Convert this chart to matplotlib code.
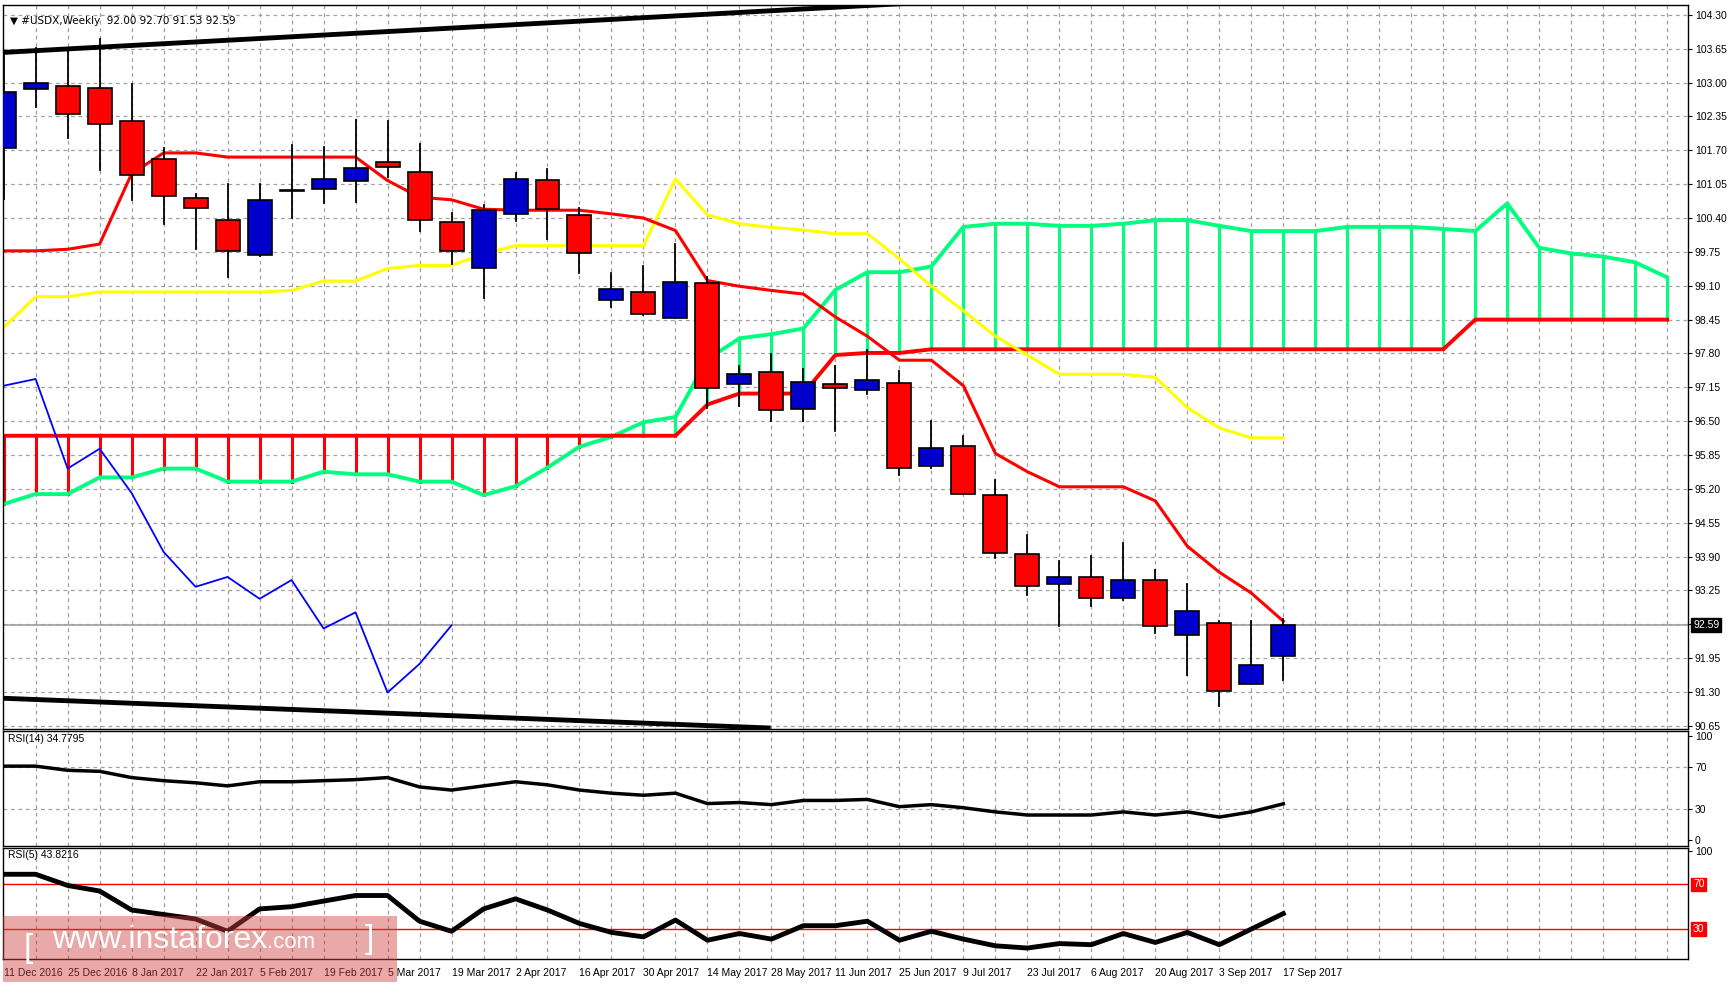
import matplotlib.pyplot as plt
import numpy as np
from matplotlib.patches import Rectangle

# weekly candles, 11 Dec 2016 .. 17 Sep 2017
opens = [101.75, 102.88, 102.94, 102.90, 102.27, 101.54, 100.78, 100.36, 99.69, 100.94,
         100.95, 101.11, 101.47, 101.29, 100.32, 99.44, 100.48, 101.13, 100.46, 98.83,
         98.98, 98.49, 99.16, 97.21, 97.44, 96.73, 97.21, 97.09, 97.23, 95.64,
         96.03, 95.09, 93.95, 93.38, 93.51, 93.11, 93.45, 92.39, 92.62, 91.46, 92.00]
highs = [103.57, 103.66, 103.60, 103.84, 102.98, 101.75, 100.86, 101.05, 101.05, 101.80,
         101.77, 102.29, 102.27, 101.82, 100.49, 100.65, 101.27, 101.35, 100.59, 99.34,
         99.47, 99.90, 99.27, 97.56, 97.79, 97.50, 97.56, 97.86, 97.46, 96.51,
         96.22, 95.37, 94.32, 93.81, 93.92, 94.17, 93.65, 93.38, 92.66, 92.66, 92.70]
lows = [100.76, 102.53, 101.94, 101.32, 100.75, 100.29, 99.81, 99.27, 99.67, 100.41,
        100.68, 100.71, 101.18, 100.16, 99.52, 98.86, 100.35, 99.99, 99.34, 98.69,
        98.53, 98.49, 96.75, 96.80, 96.50, 96.50, 96.31, 97.03, 95.46, 95.61,
        95.10, 93.87, 93.16, 92.57, 92.95, 93.07, 92.43, 91.63, 91.03, 91.45, 91.53]
closes = [102.82, 102.99, 102.40, 102.21, 101.22, 100.83, 100.59, 99.77, 100.74, 100.91,
          101.14, 101.37, 101.38, 100.36, 99.77, 100.55, 101.15, 100.57, 99.73, 99.04,
          98.56, 99.18, 97.13, 97.40, 96.72, 97.26, 97.13, 97.29, 95.61, 95.99,
          95.11, 93.97, 93.34, 93.51, 93.11, 93.45, 92.56, 92.86, 91.31, 91.82, 92.59]

tenkan = [99.77, 99.77, 99.80, 99.90, 101.25, 101.65, 101.65, 101.57, 101.57, 101.57,
          101.57, 101.57, 101.12, 100.80, 100.75, 100.57, 100.55, 100.55, 100.55, 100.48,
          100.40, 100.16, 99.20, 99.09, 99.01, 98.94, 98.50, 98.13, 97.67, 97.67,
          97.18, 95.88, 95.53, 95.24, 95.24, 95.24, 94.97, 94.10, 93.60, 93.20, 92.66]
kijun = [98.30, 98.89, 98.89, 98.98, 98.98, 98.98, 98.98, 98.98, 98.98, 99.01,
         99.19, 99.19, 99.43, 99.49, 99.49, 99.71, 99.87, 99.87, 99.87, 99.87,
         99.87, 101.15, 100.46, 100.29, 100.22, 100.17, 100.10, 100.10, 99.62, 99.09,
         98.62, 98.13, 97.77, 97.40, 97.40, 97.40, 97.34, 96.76, 96.37, 96.18, 96.18]
span_a = [94.91, 95.10, 95.10, 95.42, 95.42, 95.59, 95.59, 95.34, 95.34, 95.34,
          95.53, 95.48, 95.48, 95.34, 95.34, 95.08, 95.25, 95.61, 96.01, 96.20,
          96.48, 96.58, 97.69, 98.09, 98.17, 98.28, 99.02, 99.36, 99.36, 99.47,
          100.23, 100.29, 100.29, 100.25, 100.25, 100.29, 100.36, 100.36, 100.25, 100.15,
          100.15, 100.15, 100.23, 100.23, 100.23, 100.19, 100.15, 100.68, 99.83, 99.72,
          99.66, 99.55, 99.26]
span_b = [96.22] * 22 + [96.82, 97.03, 97.03, 97.03, 97.77, 97.81, 97.81] + [97.88] * 17 + [98.45] * 7
chikou = [97.18, 97.31, 95.59, 95.97, 95.12, 93.99, 93.32, 93.51, 93.09, 93.45,
          92.52, 92.83, 91.29, 91.84, 92.58]

rsi14 = [71, 71, 67, 66, 60, 57, 55, 52, 56, 56, 57, 58, 60, 51, 48, 52, 56, 53, 48, 45,
         43, 45, 35, 36, 34, 38, 38, 39, 32, 34, 31, 27, 24, 24, 24, 27, 24, 27, 22, 27, 34.78]
rsi5 = [79, 79, 69, 64, 47, 43, 39, 28, 48, 50, 55, 60, 60, 37, 28, 48, 57, 47, 35, 27,
        23, 38, 20, 26, 21, 33, 33, 37, 20, 28, 21, 15, 13, 17, 16, 26, 18, 27, 16, 30, 43.82]

date_labels = ['11 Dec 2016', '25 Dec 2016', '8 Jan 2017', '22 Jan 2017', '5 Feb 2017',
               '19 Feb 2017', '5 Mar 2017', '19 Mar 2017', '2 Apr 2017', '16 Apr 2017',
               '30 Apr 2017', '14 May 2017', '28 May 2017', '11 Jun 2017', '25 Jun 2017',
               '9 Jul 2017', '23 Jul 2017', '6 Aug 2017', '20 Aug 2017', '3 Sep 2017',
               '17 Sep 2017']
price_ticks = [90.65, 91.30, 91.95, 92.60, 93.25, 93.90, 94.55, 95.20, 95.85, 96.50, 97.15,
               97.80, 98.45, 99.10, 99.75, 100.40, 101.05, 101.70, 102.35, 103.00, 103.65, 104.30]

W, H = 1728, 985
plt.rcParams['font.family'] = ['Liberation Sans', 'DejaVu Sans']
fs = 7.5
fig = plt.figure(figsize=(W / 100, H / 100), dpi=100)
L, R = 3 / W, 1688 / W
def fy(y):
    return 1 - y / H
ax = fig.add_axes([L, fy(729), R - L, fy(5) - fy(729)])
ax2 = fig.add_axes([L, fy(846), R - L, fy(731) - fy(846)], sharex=ax)
ax3 = fig.add_axes([L, fy(959), R - L, fy(848) - fy(959)], sharex=ax)

xmax = 52.65
grid_kw = dict(color='#a0a0a0', linestyle=(0, (3, 3)), linewidth=0.9)
for a in (ax, ax2, ax3):
    a.set_xlim(-0.02, xmax)
    for xv in range(1, 53):
        a.axvline(xv, zorder=0, **grid_kw)
    a.yaxis.tick_right()
    a.tick_params(axis='y', labelsize=fs, length=3, pad=2)
    a.tick_params(axis='x', bottom=False, labelbottom=False)
    for s in a.spines.values():
        s.set_linewidth(1.0)

ax.set_ylim(90.59, 104.49)
ax.set_yticks(price_ticks)
ax.set_yticklabels(['%.2f' % p for p in price_ticks])
for p in price_ticks:
    ax.axhline(p, zorder=0, **grid_kw)

# cloud hatches
for i in range(len(span_a)):
    c = '#00ff7f' if span_a[i] > span_b[i] else '#ff0000'
    ax.plot([i, i], [span_a[i], span_b[i]], color=c, lw=2.2, zorder=1)
ax.plot(range(len(span_a)), span_a, color='#00ff7f', lw=2.8, zorder=2)
ax.plot(range(len(span_b)), span_b, color='#ff0000', lw=2.8, zorder=2)
ax.plot(range(len(kijun)), kijun, color='#ffff00', lw=2.2, zorder=2)
ax.plot(range(len(tenkan)), tenkan, color='#ff0000', lw=2.2, zorder=2)
ax.plot(range(len(chikou)), chikou, color='#0000ff', lw=1.3, zorder=2)

# trend lines
ax.plot([0, 28.5], [103.58, 104.53], color='black', lw=3.5, zorder=3)
ax.plot([0, 23.9], [91.18, 90.61], color='black', lw=3.5, zorder=3)

# candles
bw = 0.75
for i in range(len(opens)):
    up = closes[i] >= opens[i]
    ax.plot([i, i], [lows[i], highs[i]], color='black', lw=1.3, zorder=4)
    lo, hi = min(opens[i], closes[i]), max(opens[i], closes[i])
    ax.add_patch(Rectangle((i - bw / 2, lo), bw, max(hi - lo, 0.03),
                           facecolor='#0000cd' if up else '#ff0000',
                           edgecolor='black', lw=1.2, zorder=5))

last = closes[-1]
ax.axhline(last, color='#a0a0a0', lw=1.2, zorder=1)
ax.text(1.003, last, '%.2f' % last, transform=ax.get_yaxis_transform(), va='center',
        ha='left', fontsize=fs, color='white',
        bbox=dict(boxstyle='square,pad=0.2', fc='black', ec='black'), zorder=10, clip_on=False)
ax.text(0.004, 0.985, '\u25bc #USDX,Weekly  92.00 92.70 91.53 92.59', transform=ax.transAxes,
        fontsize=fs, va='top', ha='left', family=['DejaVu Sans'])

# RSI(14)
ax2.set_ylim(-5.8, 104.8)
ax2.set_yticks([0, 30, 70, 100])
for v in (30, 70):
    ax2.axhline(v, zorder=0, **grid_kw)
ax2.plot(range(len(rsi14)), rsi14, color='black', lw=2.5)
ax2.text(0.003, 0.97, 'RSI(14) 34.7795', transform=ax2.transAxes, fontsize=fs, va='top')

# RSI(5)
ax3.set_ylim(3.2, 102.5)
ax3.set_yticks([100])
for v in (30, 70):
    ax3.axhline(v, color='red', lw=1.0, zorder=1)
    ax3.text(1.003, v, str(v), transform=ax3.get_yaxis_transform(), va='center', ha='left',
             fontsize=fs, color='white', bbox=dict(boxstyle='square,pad=0.15', fc='red', ec='red'),
             clip_on=False)
ax3.plot(range(len(rsi5)), rsi5, color='black', lw=3.5)
ax3.text(0.003, 0.98, 'RSI(5) 43.8216', transform=ax3.transAxes, fontsize=fs, va='top')

# date labels
for k, lab in enumerate(date_labels):
    x = 2 * k
    xf = L + (x + 0.02) / (xmax + 0.02) * (R - L)
    fig.text(xf, fy(973), lab, fontsize=fs, ha='left', va='center')

# watermark
fig.patches.append(Rectangle((3 / W, fy(982)), 394 / W, (982 - 916) / H, transform=fig.transFigure,
                             facecolor=(0.82, 0.25, 0.25, 0.45), edgecolor='none', zorder=20))
fig.text(24 / W, fy(948), '[', fontsize=24, color='white', va='center', ha='left', zorder=21)
t = fig.text(52 / W, fy(948), 'www.instaforex', fontsize=23, color='white', va='baseline',
             ha='left', zorder=21)
fig.canvas.draw()
bb = t.get_window_extent()
fig.text(bb.x1 / W, t.get_position()[1], '.com', fontsize=16, color='white', va='baseline',
         ha='left', zorder=21)
fig.text(365 / W, fy(948), ']', fontsize=24, color='white', va='baseline', ha='left', zorder=21)

fig.savefig('out.png', dpi=100)
